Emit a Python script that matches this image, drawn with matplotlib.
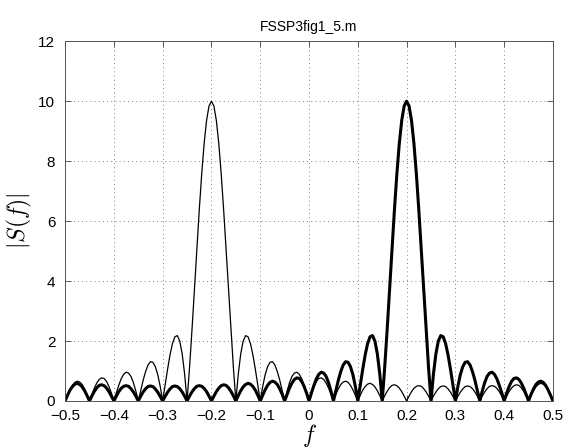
import numpy as np
import matplotlib
matplotlib.use("Agg")
import matplotlib.pyplot as plt

plt.rcParams['font.family'] = ['Liberation Sans', 'DejaVu Sans']
plt.rcParams['mathtext.fontset'] = 'cm'

# frequency grid, -0.5 .. 0.5 in steps of 0.005
f = np.linspace(-0.5, 0.5, 201)

# |S(f)| for the component at f = +0.2 (thick line)
s_pos = [
    0, 0.19, 0.36, 0.48, 0.56, 0.59, 0.55, 0.47, 0.34, 0.18,
    0, 0.17, 0.32, 0.44, 0.52, 0.54, 0.51, 0.43, 0.31, 0.16,
    0, 0.16, 0.31, 0.42, 0.49, 0.51, 0.49, 0.41, 0.30, 0.16,
    0, 0.16, 0.30, 0.41, 0.48, 0.50, 0.48, 0.40, 0.29, 0.15,
    0, 0.15, 0.29, 0.40, 0.48, 0.50, 0.48, 0.41, 0.30, 0.16,
    0, 0.16, 0.30, 0.41, 0.49, 0.51, 0.49, 0.42, 0.31, 0.16,
    0, 0.16, 0.31, 0.43, 0.51, 0.54, 0.52, 0.44, 0.32, 0.17,
    0, 0.18, 0.34, 0.47, 0.55, 0.59, 0.56, 0.48, 0.36, 0.19,
    0, 0.19, 0.37, 0.52, 0.62, 0.66, 0.63, 0.55, 0.40, 0.22,
    0, 0.22, 0.43, 0.60, 0.72, 0.77, 0.75, 0.65, 0.48, 0.26,
    0, 0.27, 0.52, 0.74, 0.89, 0.96, 0.93, 0.82, 0.61, 0.33,
    0, 0.35, 0.69, 0.98, 1.20, 1.31, 1.29, 1.14, 0.87, 0.48,
    0, 0.53, 1.05, 1.53, 1.91, 2.14, 2.18, 2.00, 1.57, 0.90,
    0, 1.10, 2.35, 3.69, 5.05, 6.37, 7.57, 8.59, 9.36, 9.84,
    10.00,
    9.84, 9.36, 8.59, 7.57, 6.37, 5.05, 3.69, 2.35, 1.10, 0,
    0.90, 1.57, 2.00, 2.18, 2.14, 1.91, 1.53, 1.05, 0.53, 0,
    0.48, 0.87, 1.14, 1.29, 1.31, 1.20, 0.98, 0.69, 0.35, 0,
    0.33, 0.61, 0.82, 0.93, 0.96, 0.89, 0.74, 0.52, 0.27, 0,
    0.26, 0.48, 0.65, 0.75, 0.77, 0.72, 0.60, 0.43, 0.22, 0,
    0.22, 0.40, 0.55, 0.63, 0.66, 0.62, 0.52, 0.37, 0.19, 0,
]

# |S(f)| for the component at f = -0.2 (thin line)
s_neg = [
    0, 0.19, 0.37, 0.52, 0.62, 0.66, 0.63, 0.55, 0.40, 0.22,
    0, 0.22, 0.43, 0.60, 0.72, 0.77, 0.75, 0.65, 0.48, 0.26,
    0, 0.27, 0.52, 0.74, 0.89, 0.96, 0.93, 0.82, 0.61, 0.33,
    0, 0.35, 0.69, 0.98, 1.20, 1.31, 1.29, 1.14, 0.87, 0.48,
    0, 0.53, 1.05, 1.53, 1.91, 2.14, 2.18, 2.00, 1.57, 0.90,
    0, 1.10, 2.35, 3.69, 5.05, 6.37, 7.57, 8.59, 9.36, 9.84,
    10.00,
    9.84, 9.36, 8.59, 7.57, 6.37, 5.05, 3.69, 2.35, 1.10, 0,
    0.90, 1.57, 2.00, 2.18, 2.14, 1.91, 1.53, 1.05, 0.53, 0,
    0.48, 0.87, 1.14, 1.29, 1.31, 1.20, 0.98, 0.69, 0.35, 0,
    0.33, 0.61, 0.82, 0.93, 0.96, 0.89, 0.74, 0.52, 0.27, 0,
    0.26, 0.48, 0.65, 0.75, 0.77, 0.72, 0.60, 0.43, 0.22, 0,
    0.22, 0.40, 0.55, 0.63, 0.66, 0.62, 0.52, 0.37, 0.19, 0,
    0.19, 0.36, 0.48, 0.56, 0.59, 0.55, 0.47, 0.34, 0.18, 0,
    0.17, 0.32, 0.44, 0.52, 0.54, 0.51, 0.43, 0.31, 0.16, 0,
    0.16, 0.31, 0.42, 0.49, 0.51, 0.49, 0.41, 0.30, 0.16, 0,
    0.16, 0.30, 0.41, 0.48, 0.50, 0.48, 0.40, 0.29, 0.15, 0,
    0.15, 0.29, 0.40, 0.48, 0.50, 0.48, 0.41, 0.30, 0.16, 0,
    0.16, 0.30, 0.41, 0.49, 0.51, 0.49, 0.42, 0.31, 0.16, 0,
    0.16, 0.31, 0.43, 0.51, 0.54, 0.52, 0.44, 0.32, 0.17, 0,
    0.18, 0.34, 0.47, 0.55, 0.59, 0.56, 0.48, 0.36, 0.19, 0,
]

xticks = [-0.5, -0.4, -0.3, -0.2, -0.1, 0, 0.1, 0.2, 0.3, 0.4, 0.5]
xticklabels = ['\u22120.5', '\u22120.4', '\u22120.3', '\u22120.2', '\u22120.1', '0',
               '0.1', '0.2', '0.3', '0.4', '0.5']
yticks = [0, 2, 4, 6, 8, 10, 12]

fig = plt.figure(figsize=(5.66, 4.48), dpi=100)
ax = fig.add_axes([0.115, 0.105, 0.862, 0.803])

ax.plot(f, s_neg, color='black', linewidth=0.9)
ax.plot(f, s_pos, color='black', linewidth=2.2)

ax.set_xlim(-0.5, 0.5)
ax.set_ylim(0, 12)
ax.set_xticks(xticks)
ax.set_xticklabels(xticklabels)
ax.set_yticks(yticks)
ax.tick_params(direction='in', length=4, labelsize=11, width=0.6, color='#444444',
               top=True, right=True)
ax.tick_params(axis='x', pad=6)
ax.tick_params(axis='y', pad=7)
for sp in ax.spines.values():
    sp.set_linewidth(0.7)
    sp.set_color('#555555')
ax.grid(True, color='#555555', linestyle=(0, (1, 4)), linewidth=0.6)

ax.set_title('FSSP3fig1_5.m', fontsize=10, pad=7)
ax.set_xlabel('$f$', fontsize=17, labelpad=-1)
ax.set_ylabel('$|S(f)|$', fontsize=17, labelpad=3)

fig.savefig('out.png', dpi=100)
